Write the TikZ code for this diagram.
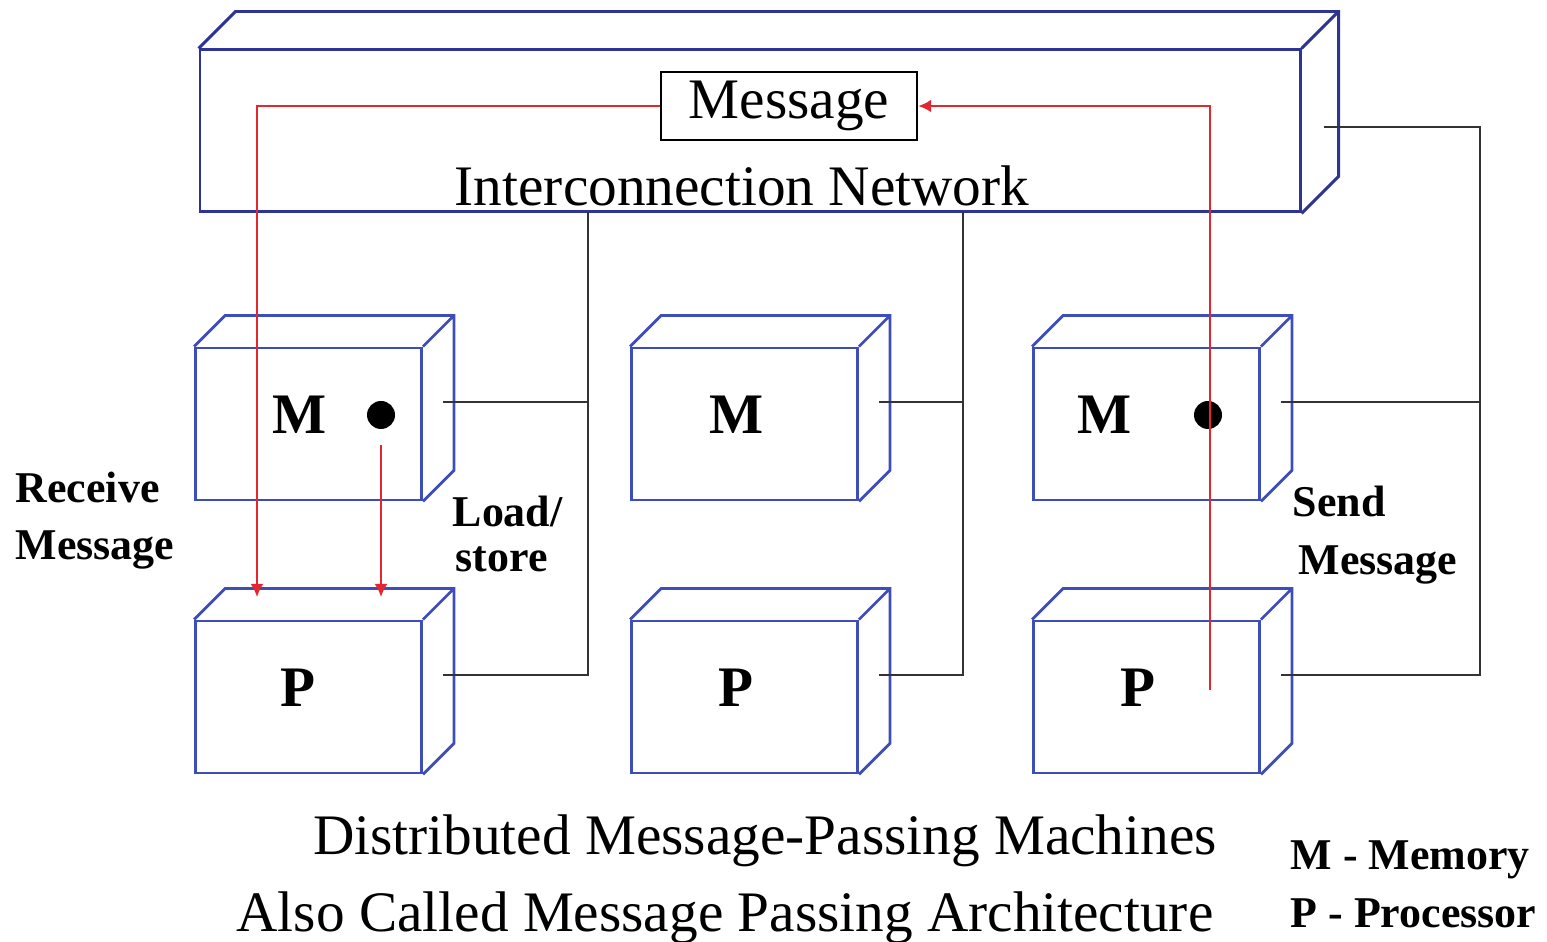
\documentclass[tikz,border=0pt]{standalone}
\usepackage{fontspec}
\setmainfont{Liberation Serif}
\usetikzlibrary{arrows.meta}
\usetikzlibrary{positioning}
\usetikzlibrary{calc}

\definecolor{boxblue}{RGB}{62,78,185}
\definecolor{netblue}{RGB}{45,52,145}
\definecolor{msgred}{RGB}{228,38,48}

\begin{document}
\begin{tikzpicture}[every node/.style={inner sep=0pt, font=\fontsize{16.3}{19}\selectfont},
    unit/.style={draw=boxblue, line width=0.8pt, minimum width=2.26cm, minimum height=1.52cm},
    wire/.style={black!80, line width=0.6pt},
    redwire/.style={msgred, line width=0.7pt},
    tip/.style={-{Latex[length=1.3mm, width=1.3mm]}},
    tag/.style={anchor=base west, font=\fontsize{12.5}{15}\selectfont\bfseries}]

        \useasboundingbox (0,0) rectangle (15.47,-9.42);

        \def\d{0.31} % depth of a memory / processor box
        \def\D{0.37} % depth of the network box

        % interconnection network
        \node[draw=netblue, line width=0.85pt, minimum width=11cm, minimum height=1.62cm] (net) at (7.5,-1.31) {};
        \draw[netblue, line width=0.85pt] (net.north west) -- ++(\D,\D) -| ($(net.south east)+(\D,\D)$) -- (net.south east)
              (net.north east) -- ++(\D,\D);
        \node (netlab) at (7.42,-1.86) {Interconnection Network};
        \node[draw=black, line width=0.7pt, fill=white, minimum width=2.56cm, minimum height=0.68cm] (msg) at (7.89,-1.06) {Message};

        % memories and processors
        \foreach \n/\x/\y in {m1/3.085/-4.24, m2/7.445/-4.24, m3/11.465/-4.24, p1/3.085/-6.97, p2/7.445/-6.97, p3/11.465/-6.97} {
          \node[unit] (\n) at (\x,\y) {};
          \draw[boxblue, line width=0.8pt] (\n.north west) -- ++(\d,\d) -| ($(\n.south east)+(\d,\d)$) -- (\n.south east)
                (\n.north east) -- ++(\d,\d);
          \coordinate (\n s) at ($(\n.east)+(0.2,0.22)$);
        }

        \foreach \n/\x/\y/\t in {m1/3.00/-4.15/M, m2/7.37/-4.15/M, m3/11.05/-4.15/M, p1/2.98/-6.88/P, p2/7.36/-6.88/P, p3/11.38/-6.88/P} {
          \node[font=\fontsize{16.3}{19}\selectfont\bfseries] (\n lab) at (\x,\y) {\t};
        }

        \node[circle, fill=black, minimum size=0.28cm] (dot1) at (3.81,-4.15) {};
        \node[circle, fill=black, minimum size=0.28cm] (dot2) at (12.08,-4.15) {};

        % wiring to the network
        \coordinate (bus1) at (5.88,-2.12);
        \coordinate (bus2) at (9.63,-2.12);
        \coordinate (nets) at ($(net.east)+(0.22,0.04)$);
        \coordinate (bus3) at (14.80,-1.27);

        \draw[wire] (bus1) |- (p1s);
        \draw[wire] (m1s) -- (m1s -| bus1);
        \draw[wire] (bus2) |- (p2s);
        \draw[wire] (m2s) -- (m2s -| bus2);
        \draw[wire] (nets) -- (bus3) |- (p3s);
        \draw[wire] (m3s) -- (m3s -| bus3);

        % message path
        \coordinate (p1in) at (2.57,-5.97);
        \coordinate (ldst) at (3.81,-4.45);
        \coordinate (sendsrc) at (12.10,-6.90);

        \draw[redwire, tip] (msg.west) -| (p1in);
        \draw[redwire, tip] (ldst) -- (ldst |- p1in);
        \draw[redwire, tip] (sendsrc) |- (msg.east);

        \node[tag] (recv1) at (0.15,-5.03) {Receive};
        \node[tag] (recv2) at (0.15,-5.60) {Message};
        \node[tag] (load1) at (4.52,-5.27) {Load/};
        \node[tag] (load2) at (4.55,-5.72) {store};
        \node[tag] (send1) at (12.92,-5.17) {Send};
        \node[tag] (send2) at (12.98,-5.75) {Message};

        \node[anchor=base] (title1) at (7.65,-8.55) {Distributed Message-Passing Machines};
        \node[anchor=base] (title2) at (7.25,-9.32) {Also Called Message Passing Architecture};

        \node[tag] (keym) at (12.90,-8.70) {M - Memory};
        \node[tag] (keyp) at (12.90,-9.28) {P - Processor};

      \end{tikzpicture}
\end{document}
